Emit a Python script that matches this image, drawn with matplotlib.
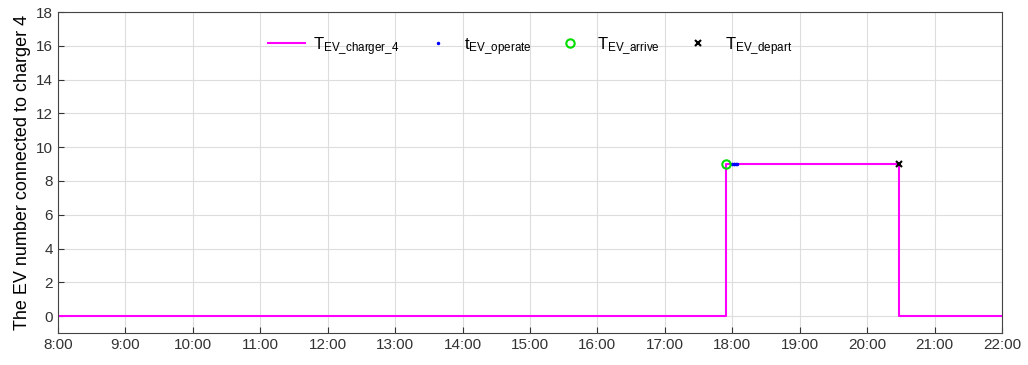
import matplotlib.pyplot as plt

plt.rcParams['font.family'] = ['Liberation Sans', 'DejaVu Sans']
plt.rcParams['mathtext.fontset'] = 'custom'
plt.rcParams['mathtext.rm'] = 'Liberation Sans'
plt.rcParams['mathtext.it'] = 'Liberation Sans'

# times in hours of the day
charger_t = [8.0, 17.9, 17.9, 20.48, 20.48, 22.0]
charger_n = [0, 0, 9, 9, 0, 0]
operate_t = [18.0, 18.02, 18.03, 18.05, 18.07]
operate_n = [9, 9, 9, 9, 9]
arrive_t = [17.9]
arrive_n = [9]
depart_t = [20.48]
depart_n = [9]

hours = list(range(8, 23))
hour_labels = ['%d:00' % h for h in hours]

fig = plt.figure(figsize=(10.28, 3.65), dpi=100)
ax = fig.add_axes([0.0564, 0.0877, 0.9183, 0.8793])

ax.plot(charger_t, charger_n, '-', color='#ff00ff', lw=1.5, label=r'T$_{\rm EV\_charger\_4}$')
ax.plot(operate_t, operate_n, '.', color='#0000ff', ms=3, label=r't$_{\rm EV\_operate}$')
ax.plot(arrive_t, arrive_n, 'o', mfc='none', mec='#00dd00', mew=1.5, ms=6, label=r'T$_{\rm EV\_arrive}$')
ax.plot(depart_t, depart_n, 'x', color='black', mew=1.5, ms=5, label=r'T$_{\rm EV\_depart}$')

ax.set_xlim(8, 22)
ax.set_ylim(-1, 18)
ax.set_xticks(hours)
ax.set_xticklabels(hour_labels)
ax.set_yticks(range(0, 19, 2))
ax.grid(True, color='#dddddd', lw=0.8)
ax.tick_params(direction='in', labelsize=11, colors='#333333', length=4)
for s in ax.spines.values():
    s.set_color('#444444')
ax.set_ylabel('The EV number connected to charger 4', fontsize=13)

ax.legend(loc='upper center', ncol=4, frameon=False, fontsize=12,
          bbox_to_anchor=(0.5, 0.975), handlelength=2.2, handletextpad=0.5,
          columnspacing=1.2)

fig.savefig('out.png', dpi=100)
